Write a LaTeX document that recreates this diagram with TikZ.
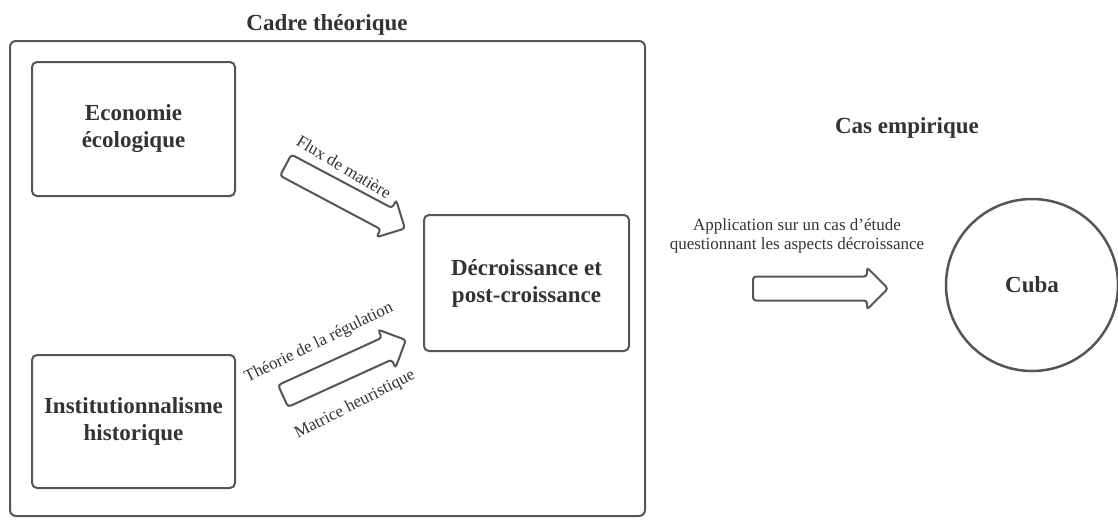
\documentclass[tikz,border=0pt]{standalone}
\usepackage{fontspec}
\setmainfont{Liberation Serif}
\usetikzlibrary{shapes.arrows}
\definecolor{linec}{HTML}{555555}
\definecolor{textc}{HTML}{333333}
\tikzset{
  frame/.style={draw=linec, line width=2pt, rounded corners=6pt},
  theorybox/.style={draw=linec, line width=2pt, rounded corners=5pt, align=center,
    text=textc, font=\fontsize{23pt}{27pt}\selectfont\bfseries, inner sep=0pt},
  heading/.style={text=textc, font=\fontsize{23pt}{27pt}\selectfont\bfseries, anchor=base},
  smalllabel/.style={text=textc, font=\fontsize{17pt}{18.5pt}\selectfont, align=center, inner sep=0pt},
  blockarrow/.style={single arrow, draw=linec, line width=2pt, rounded corners=3pt,
    minimum height=135pt, minimum width=40pt, single arrow head extend=9pt,
    inner xsep=0pt, inner ysep=11pt},
}
\begin{document}
\begin{tikzpicture}[x=1pt,y=-1pt]
\useasboundingbox (0,0) rectangle (1118,520);
% outer frame
\node[frame, minimum width=635pt, minimum height=475pt, inner sep=0pt] (cadre) at (327.5,278.5) {};
\node[heading] (cadretitle) at (327,30) {Cadre théorique};
% boxes
\node[theorybox, minimum width=203pt, minimum height=134pt] (eco) at (133.5,129) {Economie\\écologique};
\node[theorybox, minimum width=203pt, minimum height=133pt] (inst) at (133.5,421.5) {Institutionnalisme\\historique};
\node[theorybox, minimum width=205pt, minimum height=136pt] (decro) at (526.5,283) {Décroissance et\\post-croissance};
% block arrows
\node[blockarrow, rotate=-28] (a1) at (340,194) {};
\node[blockarrow, rotate=24.5] (a2) at (339,370.5) {};
\node[blockarrow] (a3) at (814.5,288.5) {};
% arrow labels
\node[smalllabel, rotate=-31] (l1) at (344,167) {Flux de matière};
\node[smalllabel, rotate=26] (l2) at (319,343) {Théorie de la régulation};
\node[smalllabel, rotate=27] (l3) at (355,405) {Matrice heuristique};
\node[smalllabel] (l4) at (797,236) {Application sur un cas d{\char"27}étude\\questionnant les aspects décroissance};
% empirical case
\node[heading] (castitle) at (907,133) {Cas empirique};
\node[circle, draw=linec, line width=2.5pt, minimum size=172pt, inner sep=0pt,
  text=textc, font=\fontsize{23pt}{27pt}\selectfont\bfseries] (cuba) at (1032,285) {Cuba};
\end{tikzpicture}
\end{document}
